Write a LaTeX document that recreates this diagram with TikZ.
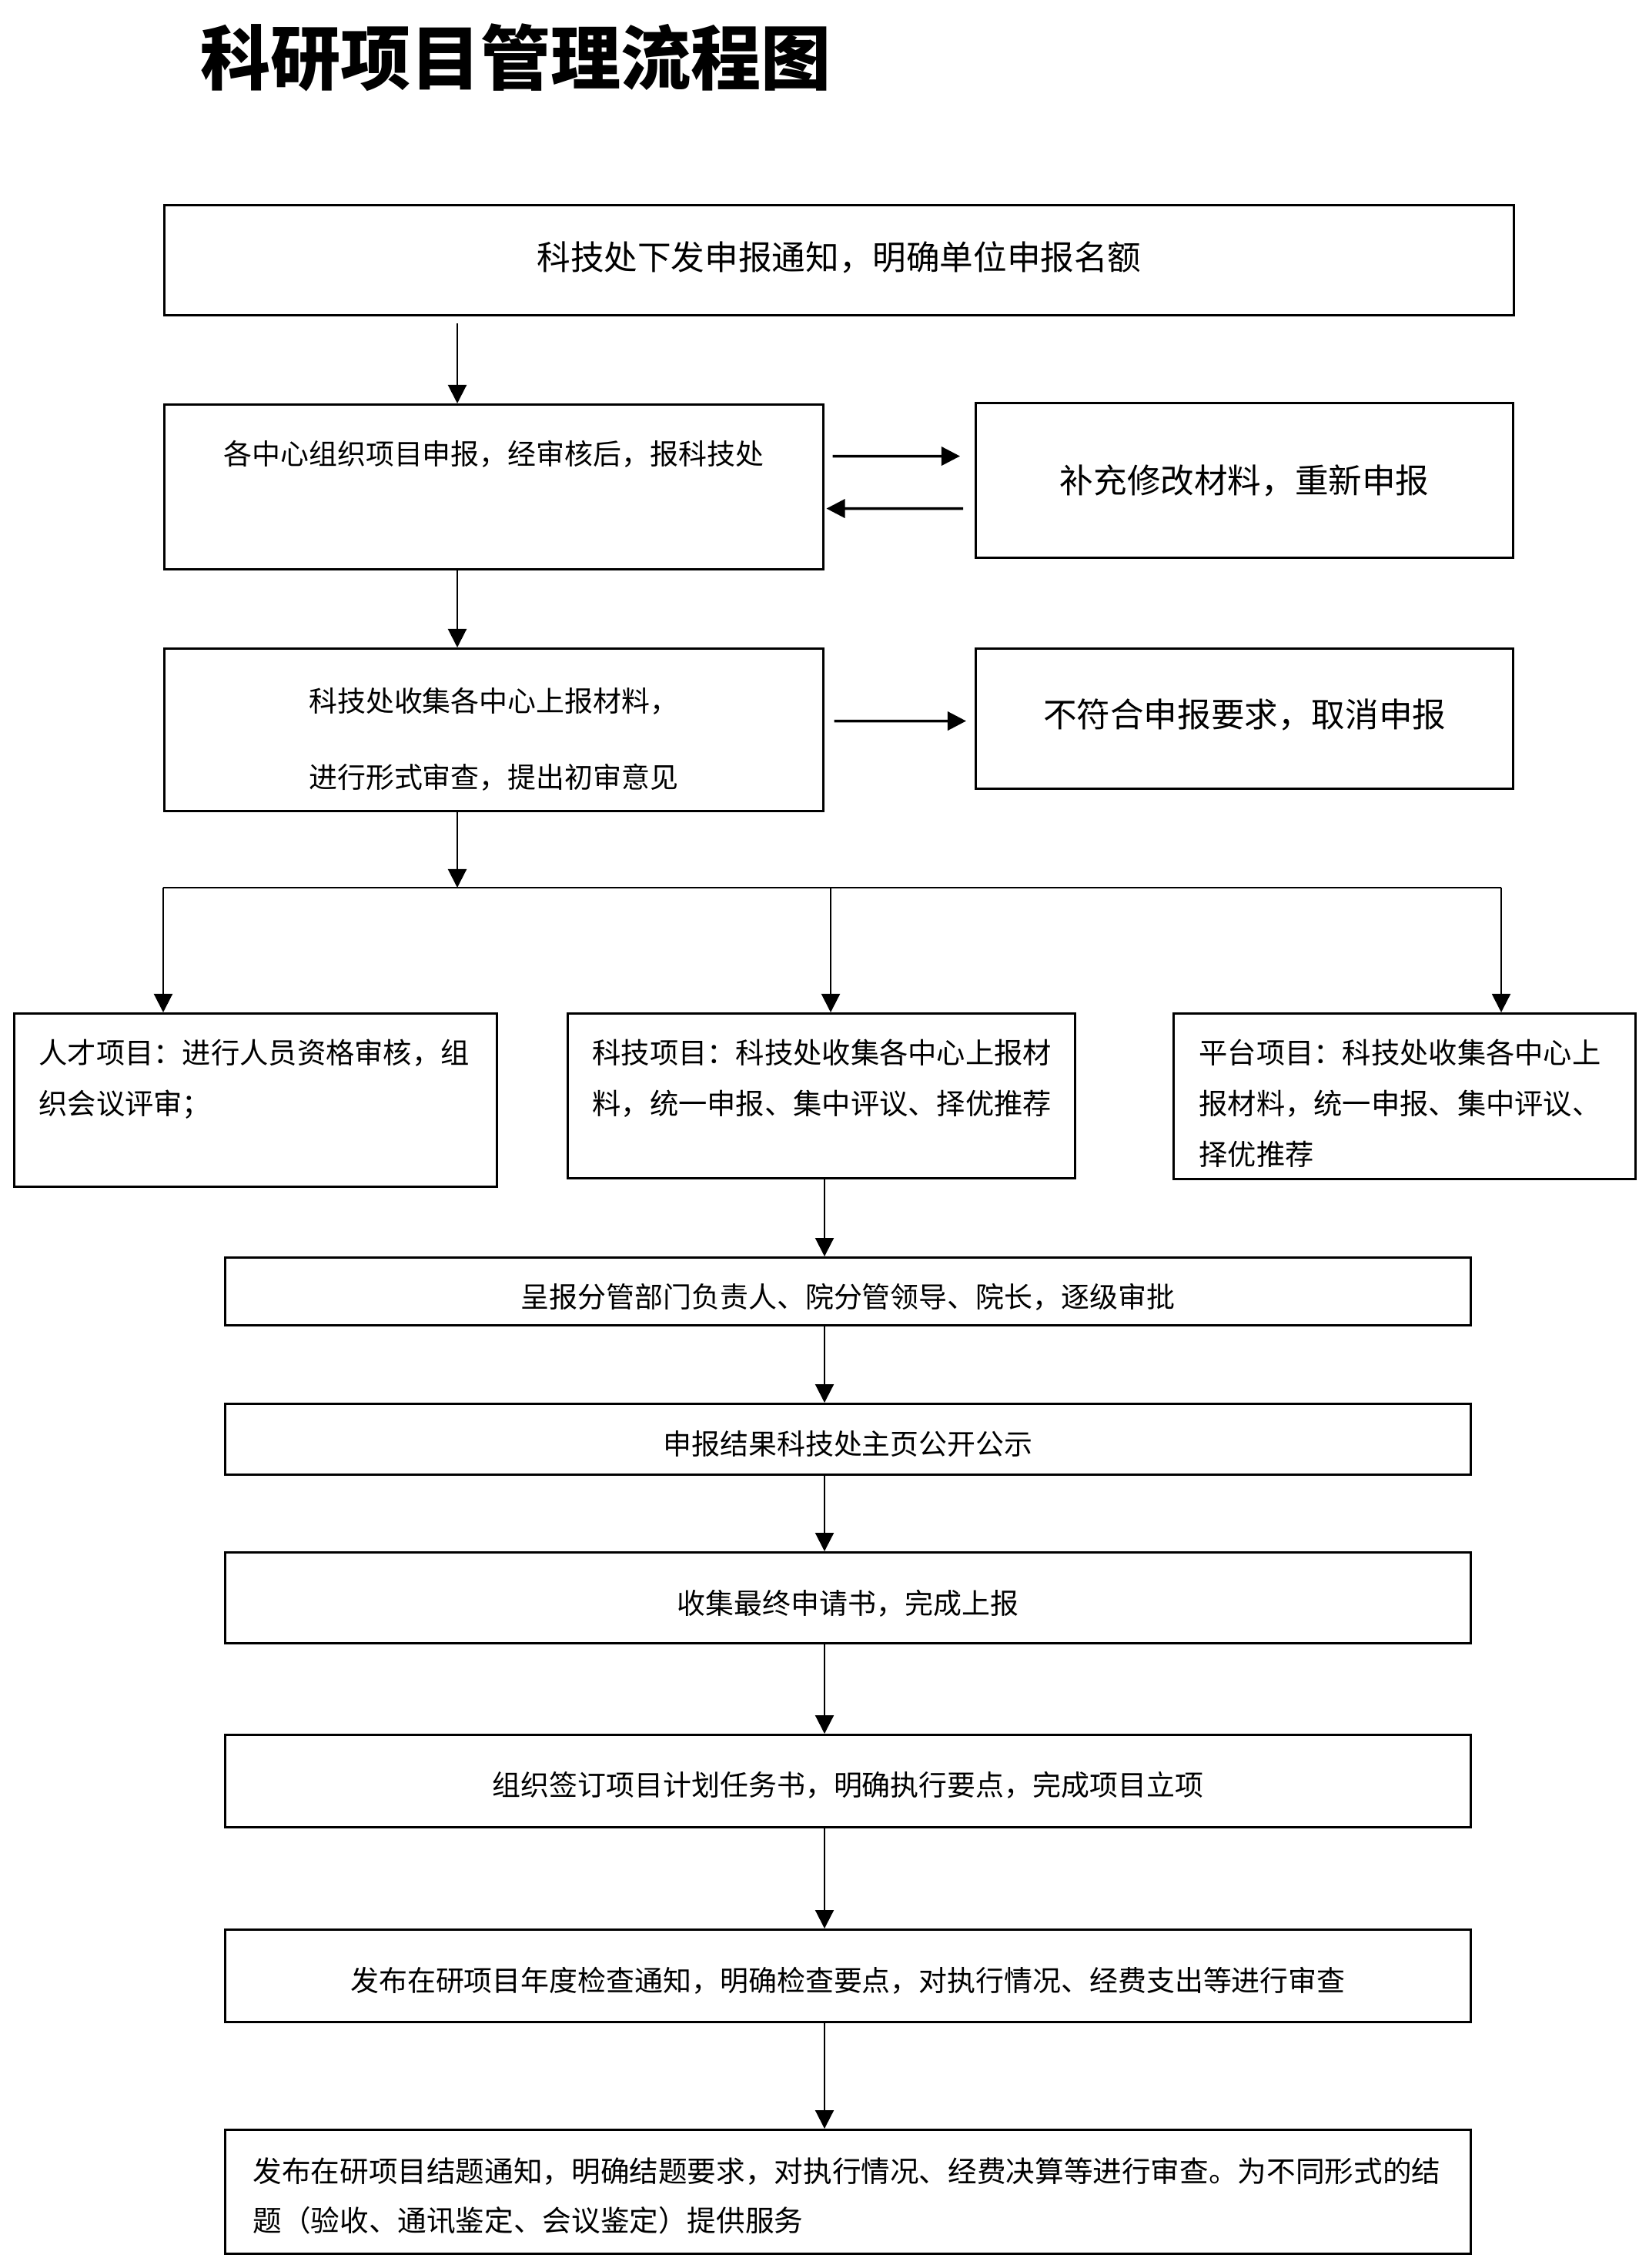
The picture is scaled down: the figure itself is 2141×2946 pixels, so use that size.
\documentclass[tikz,border=0pt]{standalone}
\usepackage{fontspec}
\setmainfont{Noto Sans CJK SC}
\usepackage{tikz}
\usetikzlibrary{arrows.meta,positioning}
\tikzset{
  procbox/.style={draw, line width=0.85pt, inner sep=0pt, anchor=north west,
    align=center, font=\fontsize{10.5}{28}\selectfont},
  sidebox/.style={procbox, font=\fontsize{12.4}{15}\selectfont},
  projbox/.style={procbox, align=left, inner xsep=0.32cm,
    font=\fontsize{10.6}{18.8}\selectfont},
  tb/.style n args={2}{text height=#1cm, text depth=#2cm},
  arr/.style={-{Triangle[length=0.24cm,width=0.24cm]}, line width=0.6pt},
  harr/.style={-{Triangle[length=0.24cm,width=0.24cm]}, line width=1pt},
}

\begin{document}
\begin{tikzpicture}[x=0.01cm, y=-0.01cm]
  \useasboundingbox (0,0) rectangle (2141,2946);

  \node[font=\fontsize{25.9}{30}\selectfont\bfseries, inner sep=0pt] (title) at (670,75) {科研项目管理流程图};

  % declaration stage
  \node[sidebox, tb={0.835}{0.595}, text width=17.52cm] (notice) at (212,265) {科技处下发申报通知，明确单位申报名额};
  \node[procbox, tb={0.78}{1.36}, text width=8.55cm] (organize) at (212,524) {各中心组织项目申报，经审核后，报科技处};
  \node[sidebox, tb={1.165}{0.845}, text width=6.98cm] (revise) at (1266,522) {补充修改材料，重新申报};
  \node[procbox, tb={0.82}{1.29}, text width=8.55cm] (collect) at (212,841) {科技处收集各中心上报材料，\\进行形式审查，提出初审意见};
  \node[sidebox, tb={1.015}{0.805}, text width=6.98cm] (reject) at (1266,841) {不符合申报要求，取消申报};

  % three project types
  \node[projbox, tb={0.65}{1.60}, text width=5.63cm] (talent) at (17,1315) {人才项目：进行人员资格审核，组\\织会议评审；};
  \node[projbox, tb={0.65}{1.49}, text width=5.95cm] (scitech) at (736,1315) {科技项目：科技处收集各中心上报材\\料，统一申报、集中评议、择优推荐};
  \node[projbox, tb={0.65}{1.50}, inner xsep=0.33cm, text width=5.34cm] (platform) at (1523,1315) {平台项目：科技处收集各中心上\\报材料，统一申报、集中评议、\\择优推荐};

  % approval and execution
  \node[procbox, tb={0.65}{0.23}, text width=16.17cm] (approve) at (291,1632) {呈报分管部门负责人、院分管领导、院长，逐级审批};
  \node[procbox, tb={0.66}{0.26}, text width=16.17cm] (publicize) at (291,1822) {申报结果科技处主页公开公示};
  \node[procbox, tb={0.80}{0.38}, text width=16.17cm] (final) at (291,2015) {收集最终申请书，完成上报};
  \node[procbox, tb={0.79}{0.41}, text width=16.17cm] (sign) at (291,2252) {组织签订项目计划任务书，明确执行要点，完成项目立项};
  \node[procbox, tb={0.80}{0.40}, text width=16.17cm] (inspect) at (291,2505) {发布在研项目年度检查通知，明确检查要点，对执行情况、经费支出等进行审查};
  \node[procbox, align=left, inner xsep=0.36cm, text width=15.45cm, tb={0.68}{0.93},
        font=\fontsize{10.7}{18.2}\selectfont] (conclude) at (291,2765)
        {发布在研项目结题通知，明确结题要求，对执行情况、经费决算等进行审查。为不同形式的结\\题（验收、通讯鉴定、会议鉴定）提供服务};

  \coordinate (spine) at (594,0);
  \draw[arr, shorten <=0.09cm] (notice.south -| spine) -- (organize.north -| spine);
  \draw[arr] (organize.south -| spine) -- (collect.north -| spine);

  \draw[harr, shorten <=0.11cm, shorten >=0.19cm] ([yshift=0.4cm]organize.east) -- ([yshift=0.315cm]revise.west);
  \draw[harr, shorten <=0.15cm, shorten >=0.03cm] ([yshift=-0.365cm]revise.west) -- ([yshift=-0.28cm]organize.east);
  \draw[harr, shorten <=0.13cm, shorten >=0.11cm] ([yshift=0.115cm]collect.east) -- ([yshift=-0.03cm]reject.west);

  % split into the three branches
  \coordinate (split) at (594,1153);
  \coordinate (barL) at (212,1153);
  \coordinate (barM) at (1079,1153);
  \coordinate (barR) at (1950,1153);
  \draw[arr] (collect.south -| split) -- (split);
  \draw[line width=0.8pt] (barL) -- (barR);
  \foreach \c/\b in {barL/talent, barM/scitech, barR/platform}
    \draw[arr] (\c) -- (\c |- \b.north);

  \coordinate (trunk) at (1071,0);
  \foreach \a/\b in {scitech/approve, approve/publicize, publicize/final,
                     final/sign, sign/inspect, inspect/conclude}
    \draw[arr] (\a.south -| trunk) -- (\b.north -| trunk);
\end{tikzpicture}
\end{document}
